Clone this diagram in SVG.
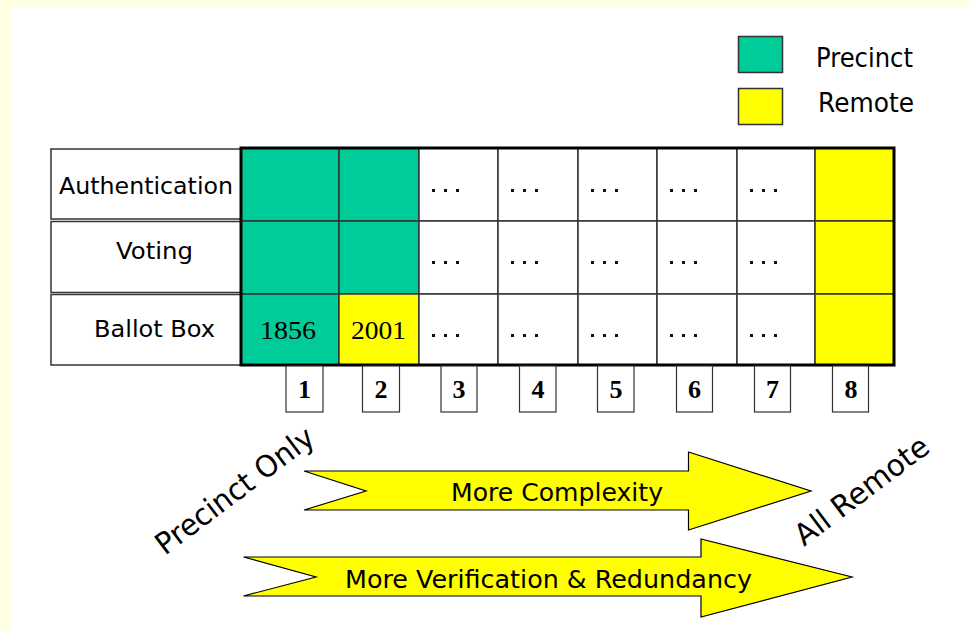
<svg xmlns="http://www.w3.org/2000/svg" width="969" height="632" viewBox="0 0 969 632">
  <style>
    .sans { font-family: "DejaVu Sans", "Liberation Sans", sans-serif; fill: #000; }
    .serif { font-family: "Liberation Serif", "Times New Roman", serif; fill: #000; }
    .lbl { stroke: #333; stroke-width: 1.5; fill: #fff; }
    .cell { stroke: #333; stroke-width: 1.5; }
    .green { fill: #00CC99; }
    .yellow { fill: #FFFF00; }
    .white { fill: #FFFFFF; }
    .num { fill: #fff; stroke: #333; stroke-width: 1.2; }
    .dot { fill: #111; }
    .arrow { fill: #FFFF00; stroke: #000; stroke-width: 1.2; stroke-linejoin: miter; }
  </style>
  <defs>
    <!-- three-dot ellipsis mark used in the undecided cells -->
    <g id="ellipsis">
      <rect x="0" y="0" width="3" height="3" class="dot"/>
      <rect x="12" y="0" width="3" height="3" class="dot"/>
      <rect x="24" y="0" width="3" height="3" class="dot"/>
    </g>
  </defs>

  <!-- page background -->
  <rect x="0" y="0" width="969" height="632" fill="#FFFFE3"/>
  <rect x="11" y="7" width="958" height="625" fill="#FFFFFF"/>

  <!-- legend -->
  <g id="legend">
    <rect x="738.5" y="36.5" width="44" height="36" class="green" stroke="#333" stroke-width="1.5"/>
    <text x="816" y="67" class="sans" font-size="26" textLength="97" lengthAdjust="spacingAndGlyphs">Precinct</text>
    <rect x="738.5" y="88.5" width="44" height="36" class="yellow" stroke="#333" stroke-width="1.5"/>
    <text x="818" y="112" class="sans" font-size="26" textLength="96" lengthAdjust="spacingAndGlyphs">Remote</text>
  </g>

  <!-- row labels -->
  <g id="row-authentication">
    <rect x="51" y="149" width="190" height="70" class="lbl"/>
    <text x="59" y="194" class="sans" font-size="23" textLength="174" lengthAdjust="spacingAndGlyphs">Authentication</text>
  </g>
  <g id="row-voting">
    <rect x="51" y="221.5" width="190" height="71" class="lbl"/>
    <text x="116" y="259" class="sans" font-size="23" textLength="77" lengthAdjust="spacingAndGlyphs">Voting</text>
  </g>
  <g id="row-ballot-box">
    <rect x="51" y="294.5" width="190" height="70.5" class="lbl"/>
    <text x="94" y="337" class="sans" font-size="23" textLength="121" lengthAdjust="spacingAndGlyphs">Ballot Box</text>
  </g>

  <!-- option grid -->
  <g id="grid">
    <!-- column 1 -->
    <rect x="241" y="148" width="98" height="73" class="cell green"/>
    <rect x="241" y="221" width="98" height="73" class="cell green"/>
    <rect x="241" y="294" width="98" height="71" class="cell green"/>
    <!-- column 2 -->
    <rect x="339" y="148" width="80" height="73" class="cell green"/>
    <rect x="339" y="221" width="80" height="73" class="cell green"/>
    <rect x="339" y="294" width="80" height="71" class="cell yellow"/>
    <!-- columns 3-7 -->
    <rect x="419" y="148" width="79" height="73" class="cell white"/>
    <rect x="419" y="221" width="79" height="73" class="cell white"/>
    <rect x="419" y="294" width="79" height="71" class="cell white"/>
    <rect x="498" y="148" width="80" height="73" class="cell white"/>
    <rect x="498" y="221" width="80" height="73" class="cell white"/>
    <rect x="498" y="294" width="80" height="71" class="cell white"/>
    <rect x="578" y="148" width="79" height="73" class="cell white"/>
    <rect x="578" y="221" width="79" height="73" class="cell white"/>
    <rect x="578" y="294" width="79" height="71" class="cell white"/>
    <rect x="657" y="148" width="80" height="73" class="cell white"/>
    <rect x="657" y="221" width="80" height="73" class="cell white"/>
    <rect x="657" y="294" width="80" height="71" class="cell white"/>
    <rect x="737" y="148" width="78" height="73" class="cell white"/>
    <rect x="737" y="221" width="78" height="73" class="cell white"/>
    <rect x="737" y="294" width="78" height="71" class="cell white"/>
    <!-- column 8 -->
    <rect x="815" y="148" width="79" height="73" class="cell yellow"/>
    <rect x="815" y="221" width="79" height="73" class="cell yellow"/>
    <rect x="815" y="294" width="79" height="71" class="cell yellow"/>
    <!-- outer frame -->
    <rect x="241" y="148" width="653" height="217" fill="none" stroke="#000" stroke-width="3"/>

    <text x="260" y="339" class="serif" font-size="26" textLength="56" lengthAdjust="spacingAndGlyphs">1856</text>
    <text x="351" y="339" class="serif" font-size="26" textLength="55" lengthAdjust="spacingAndGlyphs">2001</text>

    <!-- ellipses, columns 3-7 -->
    <use href="#ellipsis" x="432" y="189"/><use href="#ellipsis" x="511" y="189"/><use href="#ellipsis" x="591" y="189"/><use href="#ellipsis" x="670" y="189"/><use href="#ellipsis" x="750" y="189"/>
    <use href="#ellipsis" x="432" y="261"/><use href="#ellipsis" x="511" y="261"/><use href="#ellipsis" x="591" y="261"/><use href="#ellipsis" x="670" y="261"/><use href="#ellipsis" x="750" y="261"/>
    <use href="#ellipsis" x="432" y="334"/><use href="#ellipsis" x="511" y="334"/><use href="#ellipsis" x="591" y="334"/><use href="#ellipsis" x="670" y="334"/><use href="#ellipsis" x="750" y="334"/>
  </g>

  <!-- column numbers -->
  <g id="col-numbers" class="serif" font-size="26" font-weight="bold" text-anchor="middle">
    <g id="n1"><rect x="286" y="366" width="37" height="46" class="num"/><text x="304.5" y="398">1</text></g>
    <g id="n2"><rect x="362.5" y="366" width="37" height="46" class="num"/><text x="381" y="398">2</text></g>
    <g id="n3"><rect x="441" y="366" width="36" height="46" class="num"/><text x="459" y="398">3</text></g>
    <g id="n4"><rect x="519.5" y="366" width="36.5" height="46" class="num"/><text x="538" y="398">4</text></g>
    <g id="n5"><rect x="597.5" y="366" width="36.5" height="46" class="num"/><text x="616" y="398">5</text></g>
    <g id="n6"><rect x="676.5" y="366" width="36" height="46" class="num"/><text x="694.5" y="398">6</text></g>
    <g id="n7"><rect x="754.5" y="366" width="36" height="46" class="num"/><text x="772.5" y="398">7</text></g>
    <g id="n8"><rect x="832.5" y="366" width="36" height="46" class="num"/><text x="851" y="398">8</text></g>
  </g>

  <!-- trend arrows -->
  <g id="connectors">
    <g id="arrow-complexity">
      <polygon class="arrow" points="304,471 688.5,471 688.5,452 811,491 688.5,530 688.5,510 304,510 366,491"/>
      <text x="451" y="501" class="sans" font-size="25" textLength="212" lengthAdjust="spacingAndGlyphs">More Complexity</text>
    </g>
    <g id="arrow-verification">
      <polygon class="arrow" points="243.5,557 701,557 701,539 852,577 701,617 701,596 243.5,596 316,577"/>
      <text x="345" y="588" class="sans" font-size="25" textLength="407" lengthAdjust="spacingAndGlyphs">More Verification &amp; Redundancy</text>
    </g>
  </g>

  <!-- axis end labels -->
  <g id="label-precinct-only">
    <text x="0" y="0" class="sans" font-size="30" textLength="190" lengthAdjust="spacingAndGlyphs" transform="translate(165,556) rotate(-37)">Precinct Only</text>
  </g>
  <g id="label-all-remote">
    <text x="0" y="0" class="sans" font-size="30" textLength="160" lengthAdjust="spacingAndGlyphs" transform="translate(804,547) rotate(-37)">All Remote</text>
  </g>
</svg>
